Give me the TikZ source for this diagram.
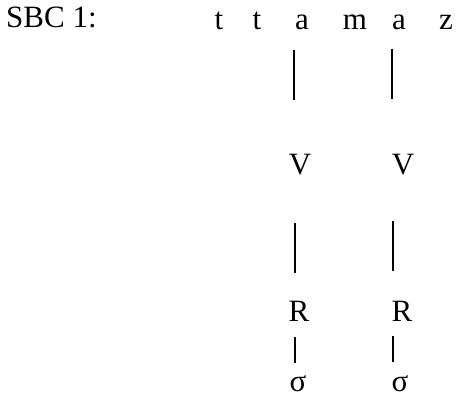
\documentclass[tikz,border=0pt]{standalone}
\usepackage{fontspec}
\setmainfont{Liberation Serif}
\begin{document}
\begin{tikzpicture}[x=1pt,y=1pt,
  lbl/.style={inner sep=0pt,anchor=base,font=\fontsize{31}{36}\selectfont},
  seg/.style={line width=1.7pt}]
\useasboundingbox (0,0) rectangle (457,-404);
\node[lbl,anchor=base west] (sbc) at (6,-28) {SBC 1:};
\node[lbl] (t1) at (219,-30) {t};
\node[lbl] (t2) at (257,-30) {t};
\node[lbl] (a1) at (302,-30) {a};
\node[lbl] (m) at (355,-30) {m};
\node[lbl] (a2) at (399,-30) {a};
\node[lbl] (z) at (446,-30) {z};
\node[lbl] (v1) at (300,-174) {V};
\node[lbl] (v2) at (403,-174) {V};
\node[lbl] (r1) at (299,-321) {R};
\node[lbl] (r2) at (402,-321) {R};
\node[lbl] (s1) at (298,-391) {σ};
\node[lbl] (s2) at (400,-391) {σ};
\coordinate (p1) at (294,-50);  \coordinate (q1) at (294,-100);
\coordinate (p2) at (392,-49);  \coordinate (q2) at (392,-99);
\coordinate (p3) at (295,-223); \coordinate (q3) at (295,-273);
\coordinate (p4) at (393,-221); \coordinate (q4) at (393,-271);
\coordinate (p5) at (295,-337); \coordinate (q5) at (295,-363);
\coordinate (p6) at (393,-336); \coordinate (q6) at (393,-362);
\draw[seg] (p1) -- (q1);
\draw[seg] (p2) -- (q2);
\draw[seg] (p3) -- (q3);
\draw[seg] (p4) -- (q4);
\draw[seg] (p5) -- (q5);
\draw[seg] (p6) -- (q6);
\end{tikzpicture}
\end{document}
